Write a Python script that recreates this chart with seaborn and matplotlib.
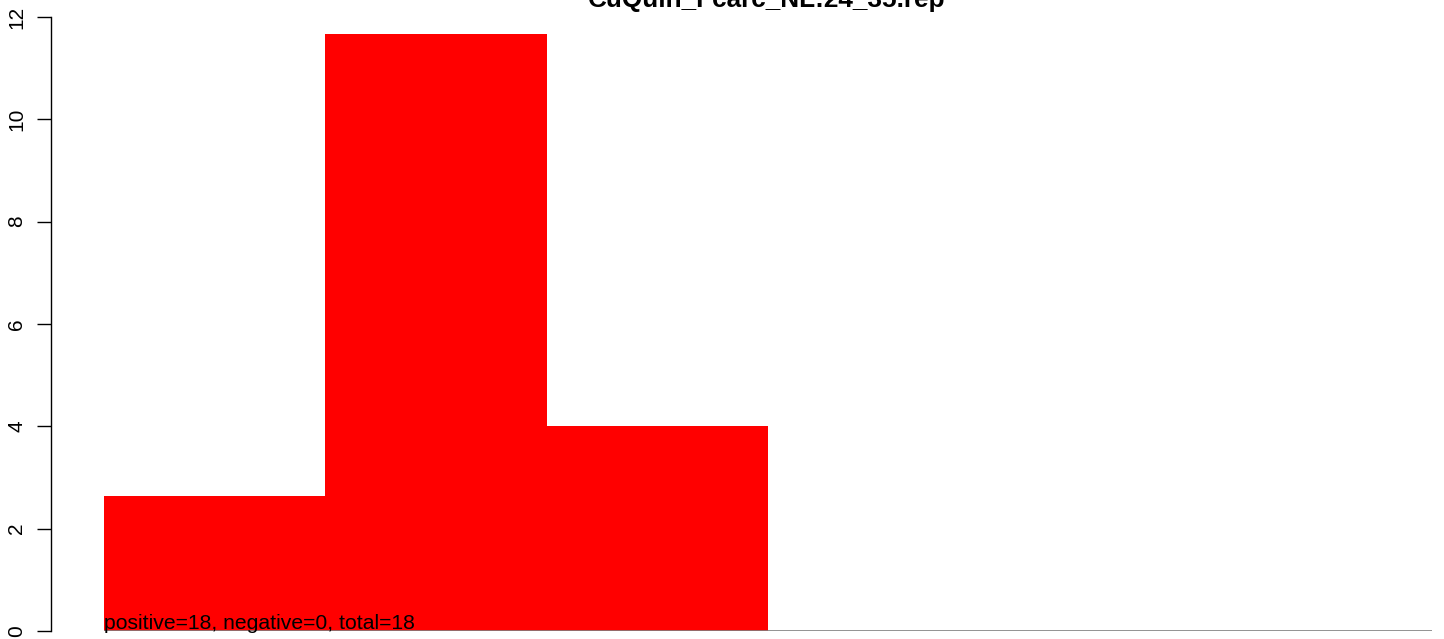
import matplotlib
matplotlib.use("Agg")
import matplotlib.pyplot as plt
import seaborn as sns
import pandas as pd

# Datos
categorias = ["b1", "b2", "b3", "b4", "b5", "b6"]
valores = [2.63, 11.67, 4.0, 0, 0, 0]
yticks = [0, 2, 4, 6, 8, 10, 12]
titulo = "CuQuin_Fcarc_NL:24_35.rep"
nota = "positive=18, negative=0, total=18"

sns.set_style("white")
plt.rcParams["font.family"] = ["Liberation Sans", "DejaVu Sans"]
plt.rcParams["text.color"] = "black"
plt.rcParams["ytick.color"] = "black"

df = pd.DataFrame({"cat": categorias, "val": valores})

W, H = 1444, 639
fig = plt.figure(figsize=(W / 100, H / 100), dpi=100)
# region del grafico en pixeles (estilo R)
ax = fig.add_axes([51 / W, 8 / H, (1485 - 51) / W, (631 - 17) / H])

sns.barplot(data=df, x="cat", y="val", color="red", saturation=1,
            width=1, linewidth=0, ax=ax)
ax.hlines(0, -0.5, len(categorias) - 0.5, color="gray", linewidth=1.2, zorder=3)

ax.set_xlim(-0.74, len(categorias) - 0.5 + 0.24)
ax.set_ylim(0, 12)
ax.set_xticks([])
ax.set_yticks(yticks)
ax.set_yticklabels([str(t) for t in yticks], rotation=90, va="center", fontsize=15)
ax.tick_params(axis="y", length=10, width=1, color="black", labelcolor="black",
               pad=8, left=True)
ax.set_xlabel("")
ax.set_ylabel("")
for s in ["top", "right", "bottom"]:
    ax.spines[s].set_visible(False)
ax.spines["left"].set_color("black")
ax.spines["left"].set_linewidth(1)

ax.text(-0.5, 0.04, nota, ha="left", va="baseline", fontsize=15.2, color="black", zorder=4)
fig.text(767 / W, 1 - 7 / H, titulo, ha="center", va="baseline",
         fontsize=18.8, fontweight="bold", color="black")

fig.savefig("out.png", dpi=100)
